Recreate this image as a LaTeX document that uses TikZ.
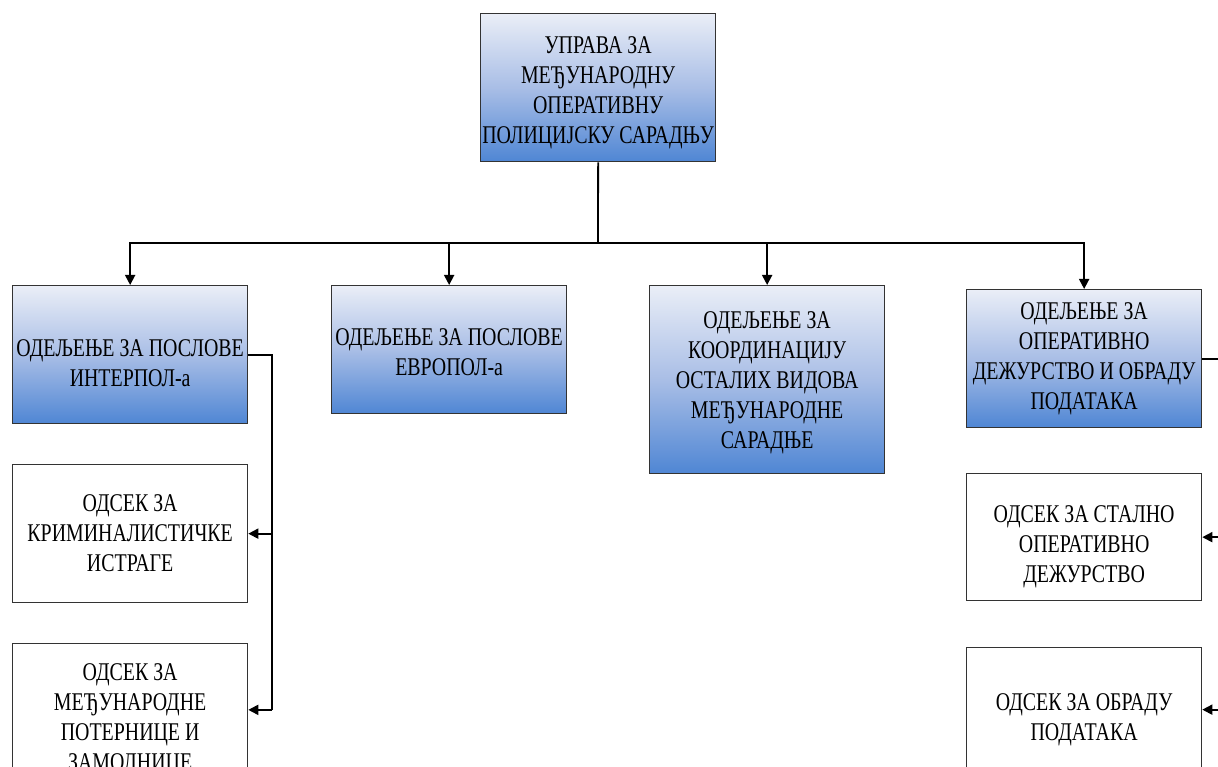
\documentclass[tikz,border=0pt]{standalone}
\usepackage{fontspec}
\setmainfont{Liberation Serif}[FakeStretch=0.78]
\usetikzlibrary{arrows.meta}
\definecolor{gtop}{HTML}{EAEEF7}
\definecolor{gmid}{HTML}{A9BEE6}
\definecolor{gbot}{HTML}{4F86D4}
\definecolor{edge}{HTML}{333333}
% raises the first line so the text block sits lower in its box
\newcommand{\firstline}[1]{\rule{0pt}{#1}}
\begin{document}
\begin{tikzpicture}[x=1pt, y=-1pt,
		box/.style={draw=edge, line width=1.3pt, anchor=north west, minimum width=235pt, inner sep=0pt, align=center, font=\fontsize{25.5}{30}\selectfont},
		dept/.style={box, top color=gtop, bottom color=gbot, middle color=gmid},
		unit/.style={box, fill=white},
		conn/.style={line width=1.8pt},
		arr/.style={conn, -{Triangle[length=10pt, width=10pt]}}]
		\useasboundingbox (0,0) rectangle (1218,767);
		\clip (0,0) rectangle (1218,767);

		\node[dept, minimum height=148pt] (top) at (480,13) {\firstline{27pt}УПРАВА ЗА\\МЕЂУНАРОДНУ\\ОПЕРАТИВНУ\\ПОЛИЦИЈСКУ САРАДЊУ};

		\node[dept, minimum height=138pt] (interpol) at (12,285) {\firstline{33pt}ОДЕЉЕЊЕ ЗА ПОСЛОВЕ\\ИНТЕРПОЛ-а};
		\node[dept, minimum height=128pt] (europol) at (331,285) {\firstline{21pt}ОДЕЉЕЊЕ ЗА ПОСЛОВЕ\\ЕВРОПОЛ-а};
		\node[dept, minimum height=188pt] (coord) at (649,285) {\firstline{23pt}ОДЕЉЕЊЕ ЗА\\КООРДИНАЦИЈУ\\ОСТАЛИХ ВИДОВА\\МЕЂУНАРОДНЕ\\САРАДЊЕ};
		\node[dept, minimum height=138pt] (duty) at (966,289) {ОДЕЉЕЊЕ ЗА\\ОПЕРАТИВНО\\ДЕЖУРСТВО И ОБРАДУ\\ПОДАТАКА};

		\node[unit, minimum height=138pt] (crim) at (12,464) {ОДСЕК ЗА\\КРИМИНАЛИСТИЧКЕ\\ИСТРАГЕ};
		\node[unit, minimum height=130pt] (warrant) at (12,643) {\firstline{37pt}ОДСЕК ЗА\\МЕЂУНАРОДНЕ\\ПОТЕРНИЦЕ И\\ЗАМОЛНИЦЕ};
		\node[unit, minimum height=127pt] (standing) at (966,473) {\firstline{37pt}ОДСЕК ЗА СТАЛНО\\ОПЕРАТИВНО\\ДЕЖУРСТВО};
		\node[unit, minimum height=124pt] (data) at (966,647) {\firstline{37pt}ОДСЕК ЗА ОБРАДУ\\ПОДАТАКА};

		% top level to departments
		\coordinate (bus) at (598,243);
		\draw[conn] (top.south) -- (bus);
		\draw[arr] (bus) -| (interpol.north);
		\draw[arr] (bus) -| (europol.north);
		\draw[arr] (bus) -| (coord.north);
		\draw[arr] (bus) -| (duty.north);

		% INTERPOL units
		\coordinate (ltrunk) at (interpol.east -| 272,0);
		\draw[conn] (interpol.east) -- (ltrunk) -- (ltrunk |- warrant.east);
		\draw[arr] (ltrunk |- crim.east) -- (crim.east);
		\draw[arr] (ltrunk |- warrant.east) -- (warrant.east);

		% duty units
		\coordinate (rtrunk) at (duty.east -| 1232,0);
		\draw[conn] (duty.east) -- (rtrunk) -- (rtrunk |- data.east);
		\draw[arr] (rtrunk |- standing.east) -- (standing.east);
		\draw[arr] (rtrunk |- data.east) -- (data.east);
	\end{tikzpicture}
\end{document}
